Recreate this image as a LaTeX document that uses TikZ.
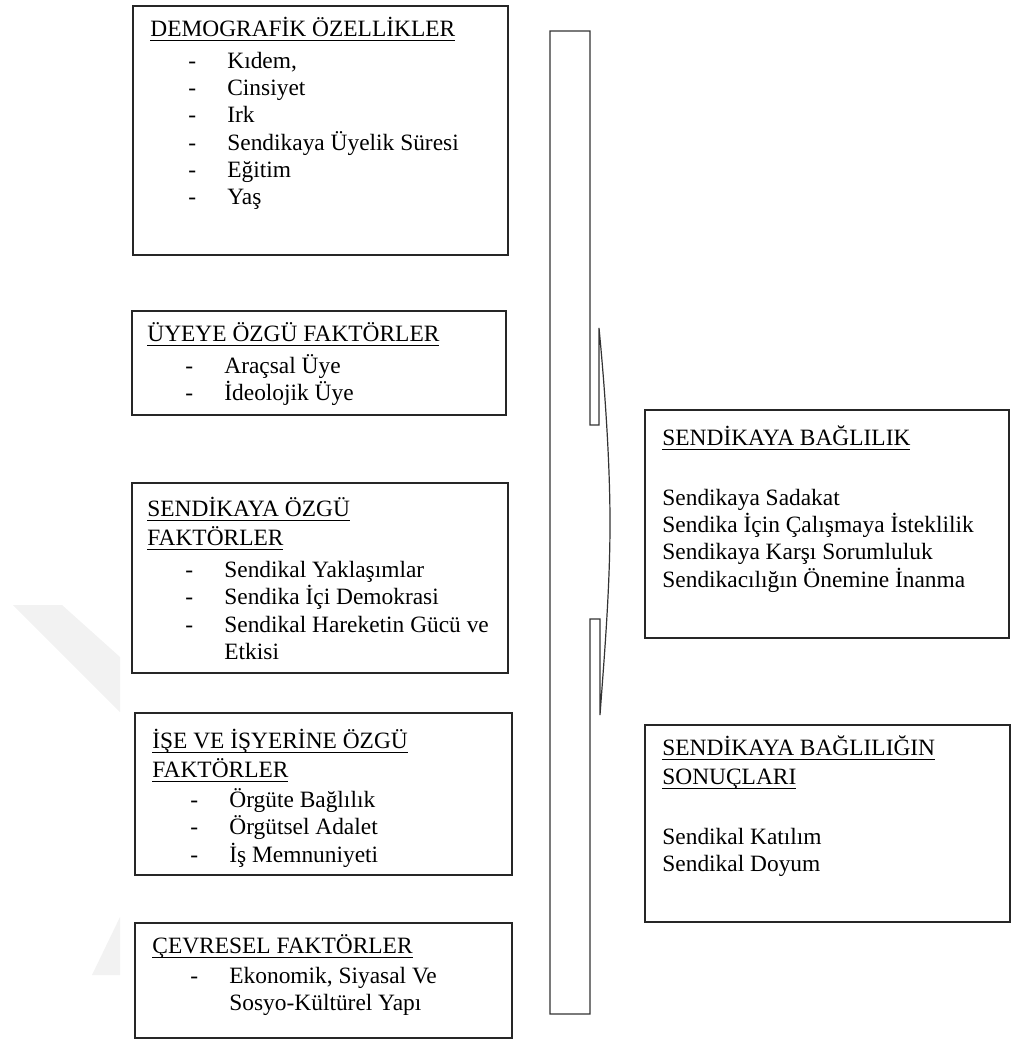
\documentclass[tikz,border=0pt]{standalone}
\usepackage{fontspec}
\setmainfont{Liberation Serif}
\usetikzlibrary{fit}
\tikzset{
    factorbox/.style={rectangle, draw=black!85, line width=0.8pt, inner sep=0pt},
    boxtext/.style={anchor=base west, inner sep=0pt, align=left},
    bracketline/.style={draw=black!80, line width=0.6pt},
    watermark/.style={fill=black!5, draw=none},
}
\newcommand{\dashitem}[1]{\hspace*{19pt}\makebox[19.5pt][l]{-}#1}
\newcommand{\contline}[1]{\hspace*{38.5pt}#1}
\newcommand{\hdg}[1]{\setbox0\hbox{#1}\rlap{\rule[-2.4pt]{\wd0}{0.6pt}}\box0}

\begin{document}
\begin{tikzpicture}[x=0.5pt, y=-0.5pt, font=\fontsize{11.7}{13.7}\selectfont]
    \useasboundingbox (0,0) rectangle (1022,1044);
    % faint watermark at the left edge
    \fill[watermark] (13,605) -- (62,605) -- (120,657) -- (120,712) -- cycle;
    \fill[watermark] (120,917) -- (120,975) -- (92,975) -- cycle;

    % left column of factor boxes
    \node[factorbox, fit={(133,6) (508,255)}] (demog) {};
    \node[factorbox, fit={(132,311) (506,415)}] (member) {};
    \node[factorbox, fit={(132,483) (508,673)}] (union) {};
    \node[factorbox, fit={(135,713) (512,875)}] (work) {};
    \node[factorbox, fit={(135,923) (512,1038)}] (env) {};
    % right column
    \node[factorbox, fit={(645,410) (1009,638)}] (commit) {};
    \node[factorbox, fit={(645,725) (1010,922)}] (result) {};

    \node[boxtext] (demogtext) at (150,36) {\begin{tabular}[t]{@{}l@{}}
        \hdg{DEMOGRAFİK ÖZELLİKLER}\\[2.3pt]
        \dashitem{Kıdem,}\\
        \dashitem{Cinsiyet}\\
        \dashitem{Irk}\\
        \dashitem{Sendikaya Üyelik Süresi}\\
        \dashitem{Eğitim}\\
        \dashitem{Yaş}
    \end{tabular}};
    \node[boxtext] (membertext) at (147,341) {\begin{tabular}[t]{@{}l@{}}
        \hdg{ÜYEYE ÖZGÜ FAKTÖRLER}\\[2.3pt]
        \dashitem{Araçsal Üye}\\
        \dashitem{İdeolojik Üye}
    \end{tabular}};
    \node[boxtext] (uniontext) at (147,516) {\begin{tabular}[t]{@{}l@{}}
        \hdg{SENDİKAYA ÖZGÜ}\\[1pt]
        \hdg{FAKTÖRLER}\\[2.3pt]
        \dashitem{Sendikal Yaklaşımlar}\\
        \dashitem{Sendika İçi Demokrasi}\\
        \dashitem{Sendikal Hareketin Gücü ve}\\
        \contline{Etkisi}
    \end{tabular}};
    \node[boxtext] (worktext) at (152,748) {\begin{tabular}[t]{@{}l@{}}
        \hdg{İŞE VE İŞYERİNE ÖZGÜ}\\[1pt]
        \hdg{FAKTÖRLER}\\[1.3pt]
        \dashitem{Örgüte Bağlılık}\\
        \dashitem{Örgütsel Adalet}\\
        \dashitem{İş Memnuniyeti}
    \end{tabular}};
    \node[boxtext] (envtext) at (152,953) {\begin{tabular}[t]{@{}l@{}}
        \hdg{ÇEVRESEL FAKTÖRLER}\\[1.3pt]
        \dashitem{Ekonomik, Siyasal Ve}\\
        \contline{Sosyo-Kültürel Yapı}
    \end{tabular}};
    \node[boxtext] (committext) at (662,445) {\begin{tabular}[t]{@{}l@{}}
        \hdg{SENDİKAYA BAĞLILIK}\\[16.3pt]
        Sendikaya Sadakat\\
        Sendika İçin Çalışmaya İsteklilik\\
        Sendikaya Karşı Sorumluluk\\
        Sendikacılığın Önemine İnanma
    \end{tabular}};
    \node[boxtext] (resulttext) at (662,755) {\begin{tabular}[t]{@{}l@{}}
        \hdg{SENDİKAYA BAĞLILIĞIN}\\[1pt]
        \hdg{SONUÇLARI}\\[16.3pt]
        Sendikal Katılım\\
        Sendikal Doyum
    \end{tabular}};

    % large brace joining the two columns
    \draw[bracketline] (550,31) -- (590,31) -- (590,425) -- (599,425) -- (599,328)
        .. controls (606,400) and (610,470) .. (610,523)
        .. controls (610,590) and (604,660) .. (600,715)
        -- (600,619) -- (590,619) -- (590,1014) -- (550,1014) -- cycle;
\end{tikzpicture}
\end{document}
